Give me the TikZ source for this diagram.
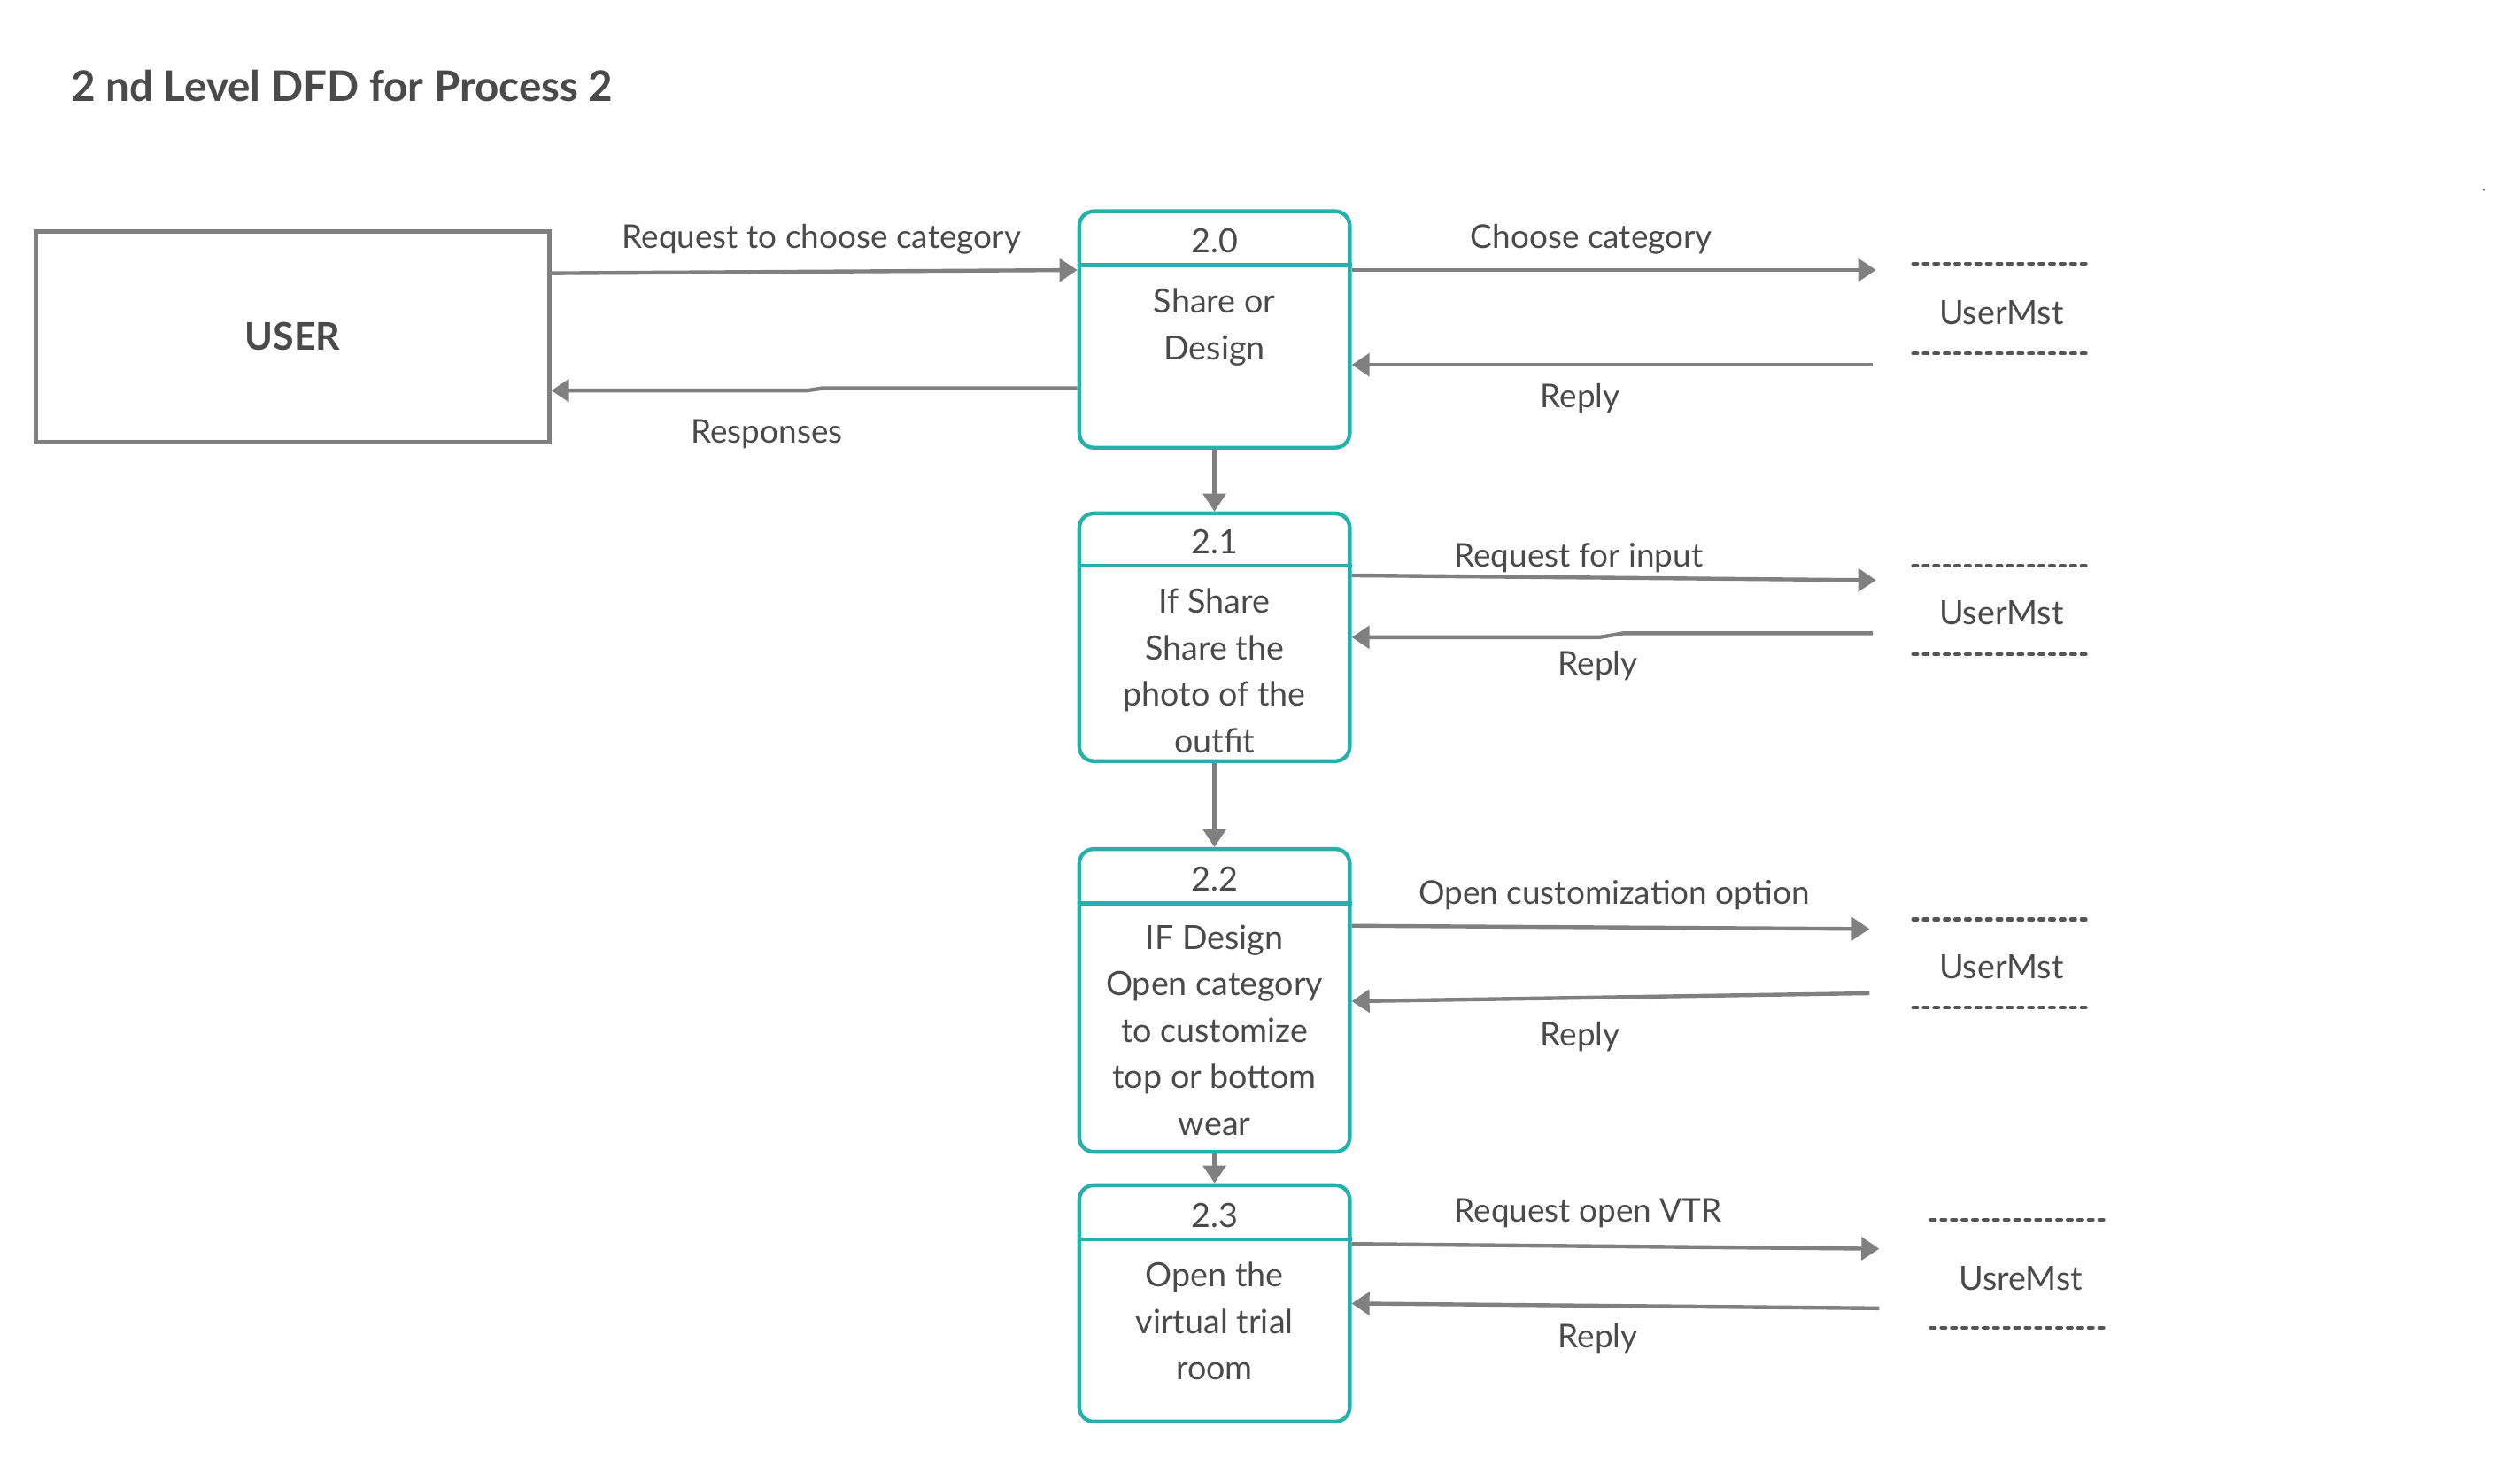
\documentclass[tikz,border=0pt]{standalone}
\usepackage{fontspec}
\setmainfont{Lato}
\usetikzlibrary{arrows.meta,calc}
\definecolor{teal1}{HTML}{26B0AC}
\definecolor{grayln}{HTML}{808080}
\definecolor{txt}{HTML}{4A4A4A}
\definecolor{dashc}{HTML}{555555}
\tikzset{
  procbox/.style={draw=teal1, line width=2.4pt, rounded corners=9pt, minimum width=167pt, inner sep=0pt},
  hdrline/.style={draw=teal1, line width=2.4pt},
  flow/.style={draw=grayln, line width=2.4pt, -{Triangle[length=11pt,width=14pt]}},
  lbl/.style={text=txt, font=\fontsize{20.2}{24}\selectfont, inner sep=0pt},
  ptxt/.style={text=txt, font=\fontsize{20.6}{28.7}\selectfont, align=center, inner sep=0pt},
  storetxt/.style={text=txt, font=\fontsize{20.6}{24}\selectfont, inner sep=0pt},
  storeln/.style={draw=dashc, line width=2.2pt, line cap=round, dash pattern=on 2.7pt off 3.8pt},
}
\begin{document}
\begin{tikzpicture}[x=0.9926pt,y=-0.9926pt]
\useasboundingbox (0,0) rectangle (1567.6,906.7);
% title
\node[anchor=west, text=txt, font=\fontsize{26}{31}\selectfont\bfseries, inner sep=0pt] (title) at (44,53.5) {2 nd Level DFD for Process 2};
% user
\node[draw=grayln, line width=2.5pt, minimum width=317pt, minimum height=130pt, inner sep=0pt,
      text=txt, font=\fontsize{23.5}{28}\selectfont\bfseries] (user) at (182,209.5) {USER};
% processes
\node[procbox, minimum height=146pt] (p20) at (755.5,205) {};
\node[procbox, minimum height=153pt] (p21) at (755.5,396.5) {};
\node[procbox, minimum height=187pt] (p22) at (755.5,622.5) {};
\node[procbox, minimum height=146pt] (p23) at (755.5,811) {};
\draw[hdrline] (p20.west |- 0,165) -- (p20.east |- 0,165);
\draw[hdrline] (p21.west |- 0,352) -- (p21.east |- 0,352);
\draw[hdrline] (p22.west |- 0,562) -- (p22.east |- 0,562);
\draw[hdrline] (p23.west |- 0,771) -- (p23.east |- 0,771);
\node[ptxt] (n20) at (755.5,150) {2.0};
\node[ptxt] (n21) at (755.5,337) {2.1};
\node[ptxt] (n22) at (755.5,547) {2.2};
\node[ptxt] (n23) at (755.5,756) {2.3};
\node[ptxt] (t20) at (755.5,203.5) {Share or\\Design};
\node[ptxt] (t21) at (755.5,417.5) {If Share\\Share the\\photo of the\\outfit};
\node[ptxt] (t22) at (755.5,641) {IF Design\\Open category\\to customize\\top or bottom\\wear};
\node[ptxt] (t23) at (755.5,822) {Open the\\virtual trial\\room};
% data stores
\node[storetxt] (s0) at (1245,194.5) {UserMst};
\node[storetxt] (s1) at (1245,381.5) {UserMst};
\node[storetxt] (s2) at (1245,601.5) {UserMst};
\node[storetxt] (s3) at (1257,795.5) {UsreMst};
\draw[storeln] ($(s0)+(-55,-30.5)$) -- ($(s0)+(55,-30.5)$);
\draw[storeln] ($(s0)+(-55,25.5)$) -- ($(s0)+(55,25.5)$);
\draw[storeln] ($(s1)+(-55,-29.5)$) -- ($(s1)+(55,-29.5)$);
\draw[storeln] ($(s1)+(-55,25.5)$) -- ($(s1)+(55,25.5)$);
\draw[storeln] ($(s2)+(-55,-29.5)$) -- ($(s2)+(55,-29.5)$);
\draw[storeln] ($(s2)+(-55,25.5)$) -- ($(s2)+(55,25.5)$);
\draw[storeln] ($(s3)+(-56,-36.5)$) -- ($(s3)+(54,-36.5)$);
\draw[storeln] ($(s3)+(-56,30.5)$) -- ($(s3)+(54,30.5)$);
% free ends near stores
\coordinate (a0) at (1167,168);
\coordinate (b0) at (1165,227);
\coordinate (a1) at (1167,361);
\coordinate (b1) at (1165,394);
\coordinate (a2) at (1163,578);
\coordinate (b2) at (1163,618);
\coordinate (a3) at (1169,777);
\coordinate (b3) at (1169,814);
% user <-> 2.0
\draw[flow] (user.east |- 0,170) -- (p20.west |- 0,168);
\draw[flow] (p20.west |- 0,241.5) -- (512,241.5) -- (502,243) -- (user.east |- 0,243);
\node[lbl] (l1) at (511,149) {Request to choose category};
\node[lbl] (l2) at (477,270) {Responses};
% 2.0 <-> store
\draw[flow] (p20.east |- a0) -- (a0);
\draw[flow] (b0) -- (p20.east |- b0);
\node[lbl] (l3) at (990,149) {Choose category};
\node[lbl] (l4) at (983,248) {Reply};
% 2.1
\draw[flow] (p21.east |- 0,358) -- (a1);
\draw[flow] (b1) -- (1010,394) -- (995,396.5) -- (p21.east |- 0,396.5);
\node[lbl] (l5) at (982,347) {Request for input};
\node[lbl] (l6) at (994,414) {Reply};
% 2.2
\draw[flow] (p22.east |- 0,576) -- (a2);
\draw[flow] (b2) -- (p22.east |- 0,623);
\node[lbl] (l7) at (1004,557) {Open customization option};
\node[lbl] (l8) at (983,645) {Reply};
% 2.3
\draw[flow] (p23.east |- 0,774) -- (a3);
\draw[flow] (b3) -- (p23.east |- 0,811);
\node[lbl] (l9) at (988,755) {Request open VTR};
\node[lbl] (l10) at (994,833) {Reply};
% vertical flows
\draw[flow] (p20.south) -- (p21.north);
\draw[flow] (p21.south) -- (p22.north);
\draw[flow] (p22.south) -- (p23.north);
% stray dot
\fill[grayln] (1545,118) circle (0.9pt);
\end{tikzpicture}
\end{document}
